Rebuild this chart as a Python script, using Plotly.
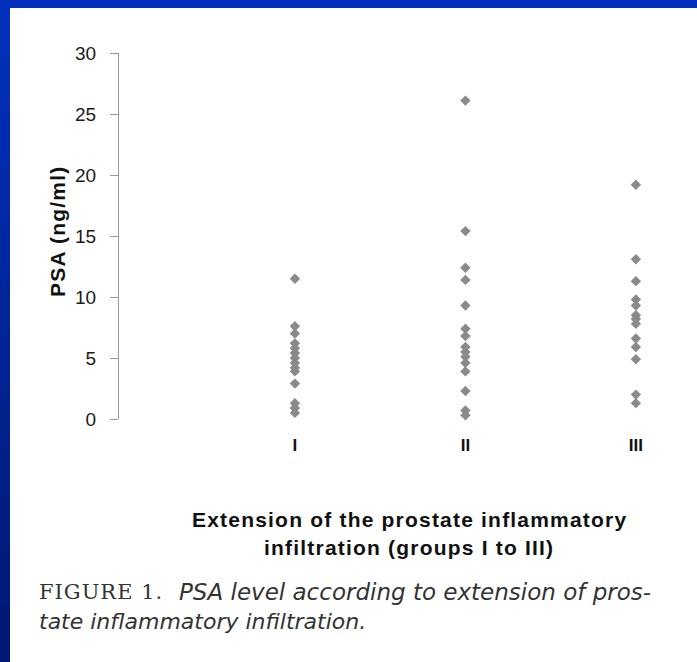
import plotly.graph_objects as go

# ---- data ----
group_labels = ["I", "II", "III"]
group_pos = [1, 2, 3]
psa_group_I = [11.5, 7.6, 7.0, 6.2, 5.8, 5.4, 5.0, 4.6, 4.2, 3.9, 2.9, 1.3, 0.9, 0.5]
psa_group_II = [26.1, 15.4, 12.4, 11.4, 9.3, 7.4, 6.8, 5.9, 5.5, 5.1, 4.6, 3.9, 2.3, 0.7, 0.3]
psa_group_III = [19.2, 13.1, 11.3, 9.8, 9.3, 8.5, 8.2, 7.8, 6.6, 5.9, 4.9, 2.0, 1.3]
y_ticks = [0, 5, 10, 15, 20, 25, 30]

W, H = 697, 662
L, R, T, B = 119, 41, 53, 243
PW = W - L - R
PH = H - T - B


def px2x(px):
    return (px - L) / PW


def py2y(py):
    return (H - B - py) / PH


fig = go.Figure()
groups = [psa_group_I, psa_group_II, psa_group_III]
for pos, vals in zip(group_pos, groups):
    fig.add_trace(go.Scatter(
        x=[pos] * len(vals), y=vals, mode="markers",
        marker=dict(symbol="diamond", size=8, color="#8a8a8a",
                    line=dict(width=0)),
        cliponaxis=False, showlegend=False, hoverinfo="y",
    ))

# blue frame (top bar + left bar with darkening gradient)
shapes = [dict(type="rect", xref="paper", yref="paper",
               x0=px2x(0), x1=px2x(W), y0=py2y(0), y1=py2y(8),
               fillcolor="#0030bc", line=dict(width=0), layer="above")]
nseg = 12
for i in range(nseg):
    t = i / (nseg - 1)
    r, g, b = 0, int(48 - 22 * t), int(188 - 70 * t)
    y0p = i * H / nseg
    y1p = (i + 1) * H / nseg + 1
    shapes.append(dict(type="rect", xref="paper", yref="paper",
                       x0=px2x(0), x1=px2x(10), y0=py2y(y0p), y1=py2y(y1p),
                       fillcolor=f"rgb({r},{g},{b})", line=dict(width=0), layer="above"))

SP = "letter-spacing:1.2px"
fig.update_layout(
    width=W, height=H,
    margin=dict(l=L, r=R, t=T, b=B),
    paper_bgcolor="white", plot_bgcolor="white",
    xaxis=dict(range=[-0.032, 3.118], tickvals=group_pos,
               ticktext=[f"<b>{t}</b>" for t in group_labels],
               showline=False, showgrid=False, zeroline=False, ticks="",
               tickfont=dict(family="Liberation Sans", size=17, color="#111"),
               ticklabelstandoff=14),
    yaxis=dict(range=[0, 30], tickvals=y_ticks, showline=True, linecolor="#9a9a9a",
               linewidth=1, ticks="outside", ticklen=8, tickcolor="#9a9a9a",
               showgrid=False, zeroline=False, ticklabelstandoff=10,
               tickfont=dict(family="Liberation Sans", size=19, color="#1a1a1a")),
    shapes=shapes,
    annotations=[
        dict(text=f"<b><span style='{SP}'>PSA (ng/ml)</span></b>", xref="paper", yref="paper",
             x=px2x(57), y=py2y(232), textangle=-90, showarrow=False,
             xanchor="center", yanchor="middle",
             font=dict(family="Liberation Sans", size=21, color="#111")),
        dict(text=f"<b><span style='{SP}'>Extension of the prostate inflammatory</span></b>",
             xref="paper", yref="paper",
             x=px2x(409), y=py2y(519), showarrow=False, xanchor="center", yanchor="middle",
             font=dict(family="Liberation Sans", size=21, color="#111")),
        dict(text=f"<b><span style='{SP}'>infiltration (groups I to III)</span></b>",
             xref="paper", yref="paper",
             x=px2x(409), y=py2y(547), showarrow=False, xanchor="center", yanchor="middle",
             font=dict(family="Liberation Sans", size=21, color="#111")),
        dict(text="<span style='letter-spacing:1px'>FIGURE 1.</span>",
             xref="paper", yref="paper",
             x=px2x(37), y=py2y(592), showarrow=False, xanchor="left", yanchor="middle",
             font=dict(family="DejaVu Serif", size=21, color="#333")),
        dict(text="<i>PSA level according to extension of pros-</i>",
             xref="paper", yref="paper",
             x=px2x(177), y=py2y(592), showarrow=False, xanchor="left", yanchor="middle",
             font=dict(family="DejaVu Sans", size=23, color="#333")),
        dict(text="<i>tate inflammatory infiltration.</i>", xref="paper", yref="paper",
             x=px2x(37), y=py2y(621), showarrow=False, xanchor="left", yanchor="middle",
             font=dict(family="DejaVu Sans", size=22, color="#333")),
    ],
)

fig.write_html("out.html", config={"displayModeBar": False},
               post_script="document.body.style.margin='0';")
